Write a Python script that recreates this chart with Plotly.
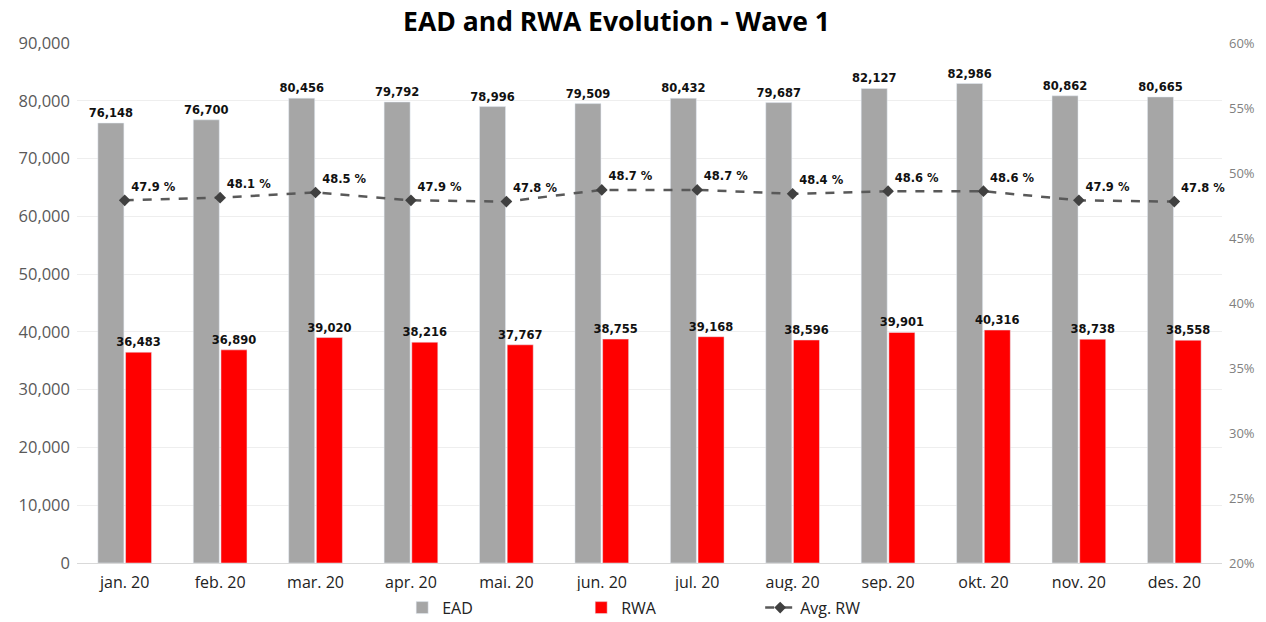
import plotly.graph_objects as go

months = ["jan. 20", "feb. 20", "mar. 20", "apr. 20", "mai. 20", "jun. 20",
          "jul. 20", "aug. 20", "sep. 20", "okt. 20", "nov. 20", "des. 20"]
ead = [76148, 76700, 80456, 79792, 78996, 79509, 80432, 79687, 82127, 82986, 80862, 80665]
rwa = [36483, 36890, 39020, 38216, 37767, 38755, 39168, 38596, 39901, 40316, 38738, 38558]
avg_rw = [0.479, 0.481, 0.485, 0.479, 0.478, 0.487, 0.487, 0.484, 0.486, 0.486, 0.479, 0.478]

label_font = dict(family="DejaVu Sans", size=11.5, color="#111111", weight="bold")

fig = go.Figure()
fig.add_trace(go.Bar(
    x=months, y=ead, name="EAD", marker=dict(color="#a6a6a6"),
    text=[f"{v:,}" for v in ead], textposition="outside", textfont=label_font,
    constraintext="none", cliponaxis=False,
))
fig.add_trace(go.Bar(
    x=months, y=rwa, name="RWA", marker=dict(color="#ff0000"),
    text=[f"{v:,}" for v in rwa], textposition="outside", textfont=label_font,
    constraintext="none", cliponaxis=False,
))
fig.add_trace(go.Scatter(
    x=months, y=avg_rw, name="Avg. RW", yaxis="y2", mode="lines+markers+text",
    line=dict(color="#595959", width=2.5, dash="dash"),
    marker=dict(symbol="diamond", size=9, color="#404040"),
    text=[f"{v*100:.1f} %" for v in avg_rw], textposition="top right",
    textfont=label_font, cliponaxis=False,
))

fig.update_layout(
    width=1266, height=622, autosize=False,
    margin=dict(l=77, r=44, t=43, b=59, autoexpand=False),
    paper_bgcolor="white", plot_bgcolor="white",
    title=dict(text="<b>EAD and RWA Evolution - Wave 1</b>", x=0.487, xanchor="center",
               y=0.965, yanchor="middle",
               font=dict(family="Open Sans", size=26.5, color="#000000")),
    barmode="group", bargap=0.42, bargroupgap=0.06,
    font=dict(family="Open Sans"),
    xaxis=dict(range=[-0.5, 11.5], tickfont=dict(family="Open Sans", size=16, color="#222222"),
               showline=True, linecolor="#d9d9d9", linewidth=1, ticks="",
               automargin=False, ticklabelstandoff=5),
    yaxis=dict(range=[0, 90000], dtick=10000, tickformat=",",
               tickfont=dict(family="Open Sans", size=16.5, color="#595959"),
               showgrid=True, gridcolor="#eeeeee", zeroline=False, automargin=False,
               ticklabelstandoff=6),
    yaxis2=dict(range=[0.2, 0.6], dtick=0.05, tickformat=".0%", overlaying="y", side="right",
                showgrid=False, zeroline=False, automargin=False,
                tickfont=dict(family="Open Sans", size=13, color="#7f7f7f"),
                ticklabelstandoff=6),
    legend=dict(orientation="h", x=0.284, xanchor="left", y=-0.086, yanchor="middle",
                font=dict(family="Open Sans", size=16, color="#222222"),
                entrywidth=134, entrywidthmode="pixels", traceorder="normal"),
    showlegend=True,
)

fig.write_html("out.html", config={"displayModeBar": False, "responsive": False},
               post_script="document.body.style.margin='0';document.body.style.overflow='hidden';")
